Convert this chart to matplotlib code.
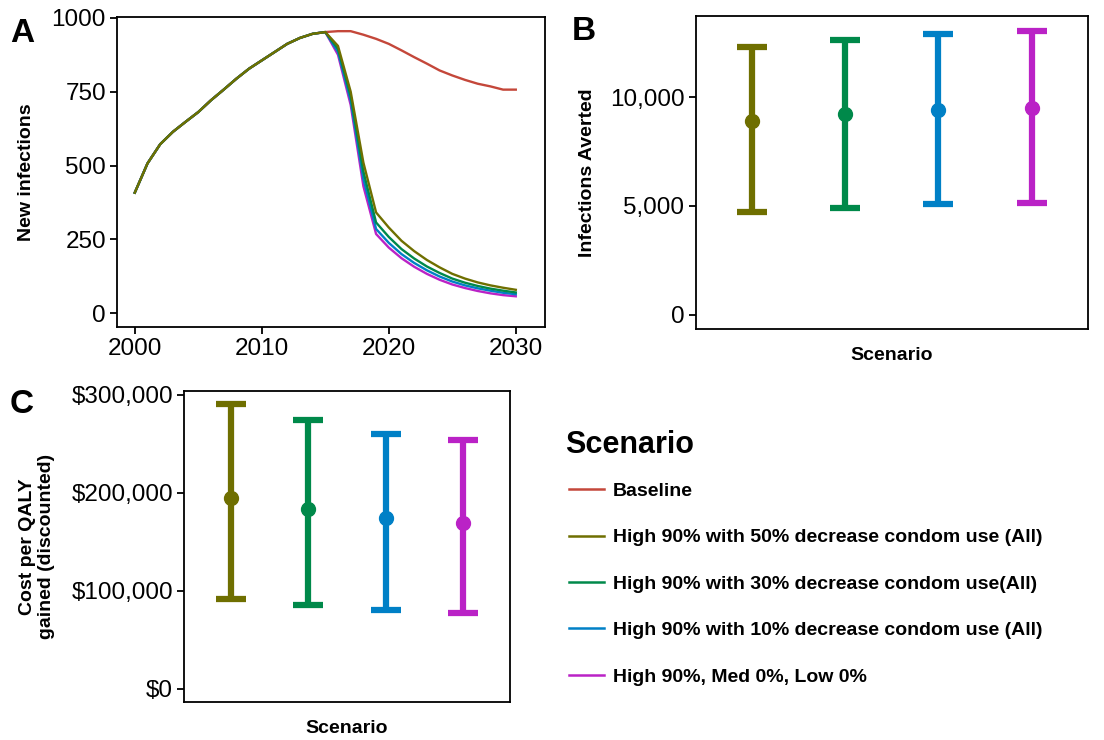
import numpy as np
import matplotlib
matplotlib.use("Agg")
import matplotlib.pyplot as plt
from matplotlib.ticker import FuncFormatter

plt.rcParams['font.family'] = ['Liberation Sans', 'DejaVu Sans']

# --- data ---
years = list(range(2000, 2031))
common = [408, 507, 572, 614, 648, 681, 721, 757, 794, 828, 856, 884, 912, 932, 946, 952]
baseline_tail = [955, 955, 943, 929, 912, 890, 867, 845, 822, 805, 790, 777, 768, 757, 757]
high50_tail = [905, 750, 510, 341, 290, 245, 210, 180, 155, 133, 117, 104, 94, 86, 79]
high30_tail = [895, 735, 480, 307, 258, 217, 185, 158, 136, 117, 103, 92, 83, 76, 70]
high10_tail = [885, 720, 455, 285, 238, 200, 170, 145, 124, 107, 94, 84, 76, 69, 64]
high_only_tail = [875, 705, 430, 268, 222, 186, 157, 133, 113, 97, 85, 75, 67, 61, 57]

scenarios = ["Baseline",
             "High 90% with 50% decrease condom use (All)",
             "High 90% with 30% decrease condom use(All)",
             "High 90% with 10% decrease condom use (All)",
             "High 90%, Med 0%, Low 0%"]
colors = ['#C4473A', '#6F6F00', '#00894A', '#0080C6', '#BA22C6']

# infections averted (panel B), intervention scenarios only
averted_mid = [8924, 9218, 9416, 9494]
averted_lo = [4724, 4894, 5092, 5152]
averted_hi = [12328, 12636, 12912, 13064]

# cost per QALY (panel C)
cost_mid = [194600, 183700, 174500, 169400]
cost_lo = [91500, 85700, 79900, 77200]
cost_hi = [290500, 274500, 260200, 254100]

series = [baseline_tail, high50_tail, high30_tail, high10_tail, high_only_tail]

W, H = 1104, 740
fig = plt.figure(figsize=(W / 100, H / 100), dpi=100)


def box(l, r, t, b):
    return [l / W, 1 - b / H, (r - l) / W, (b - t) / H]


def style(ax):
    for s in ax.spines.values():
        s.set_linewidth(1.3)
        s.set_color('black')
    ax.tick_params(axis='both', direction='out', length=5, width=1.3,
                   labelsize=17.5, colors='black', pad=3)


# panel A
axA = fig.add_axes(box(117, 545, 17, 327))
style(axA)
lines = {}
# baseline first, then the scenarios so olive ends up on top of the shared part
for k in [0, 4, 3, 2, 1]:
    lines[k], = axA.plot(years, common + series[k], color=colors[k], lw=1.7,
                         label=scenarios[k])
axA.set_xlim(1998.6, 2032.3)
axA.set_ylim(-47, 1003)
axA.set_xticks([2000, 2010, 2020, 2030])
axA.set_yticks([0, 250, 500, 750, 1000])
axA.set_ylabel("New infections", fontsize=14, fontweight='bold', labelpad=12)

# panel B
axB = fig.add_axes(box(695.5, 1087.5, 16, 329))
style(axB)
xs = np.arange(1, 5)
for i in range(4):
    m = averted_mid[i]
    axB.errorbar(xs[i], m, yerr=[[m - averted_lo[i]], [averted_hi[i] - m]],
                 fmt='o', color=colors[i + 1], ms=10, elinewidth=4.5,
                 capsize=10.5, capthick=4.5)
axB.set_xlim(0.4, 4.6)
axB.set_ylim(-660, 13740)
axB.set_yticks([0, 5000, 10000])
axB.yaxis.set_major_formatter(FuncFormatter(lambda v, p: f"{v:,.0f}"))
axB.set_xticks([])
axB.set_xlabel("Scenario", fontsize=14, fontweight='bold', labelpad=13)
axB.set_ylabel("Infections Averted", fontsize=14, fontweight='bold', labelpad=10)

# panel C
axC = fig.add_axes(box(184, 510, 391, 702))
style(axC)
for i in range(4):
    m = cost_mid[i]
    axC.errorbar(xs[i], m, yerr=[[m - cost_lo[i]], [cost_hi[i] - m]],
                 fmt='o', color=colors[i + 1], ms=10, elinewidth=4.5,
                 capsize=10.5, capthick=4.5)
axC.set_xlim(0.4, 4.6)
axC.set_ylim(-13600, 304000)
axC.set_yticks([0, 100000, 200000, 300000])
axC.yaxis.set_major_formatter(FuncFormatter(lambda v, p: f"${v:,.0f}"))
axC.set_xticks([])
axC.set_xlabel("Scenario", fontsize=14, fontweight='bold', labelpad=13)
axC.set_ylabel("Cost per QALY\ngained (discounted)", fontsize=14,
               fontweight='bold', labelpad=12, linespacing=1.15)

# panel letters
for txt, x, y in [("A", 10, 34), ("B", 572, 32), ("C", 10, 405)]:
    fig.text(x / W, 1 - y / H, txt, fontsize=24, fontweight='bold', va='center')

# legend (title drawn separately so the gap to the first key matches)
fig.text(565 / W, 1 - 445 / H, "Scenario", fontsize=22, fontweight='bold',
         va='center', ha='left')
handles = [lines[k] for k in range(5)]
leg = fig.legend(handles, scenarios, loc='upper left',
                 bbox_to_anchor=(551 / W, 1 - 465 / H), frameon=False,
                 prop={'size': 14.0, 'weight': 'bold'},
                 labelspacing=1.48, handlelength=1.8, handletextpad=0.5)
for l in leg.get_lines():
    l.set_linewidth(1.8)

fig.savefig("out.png", dpi=100)
